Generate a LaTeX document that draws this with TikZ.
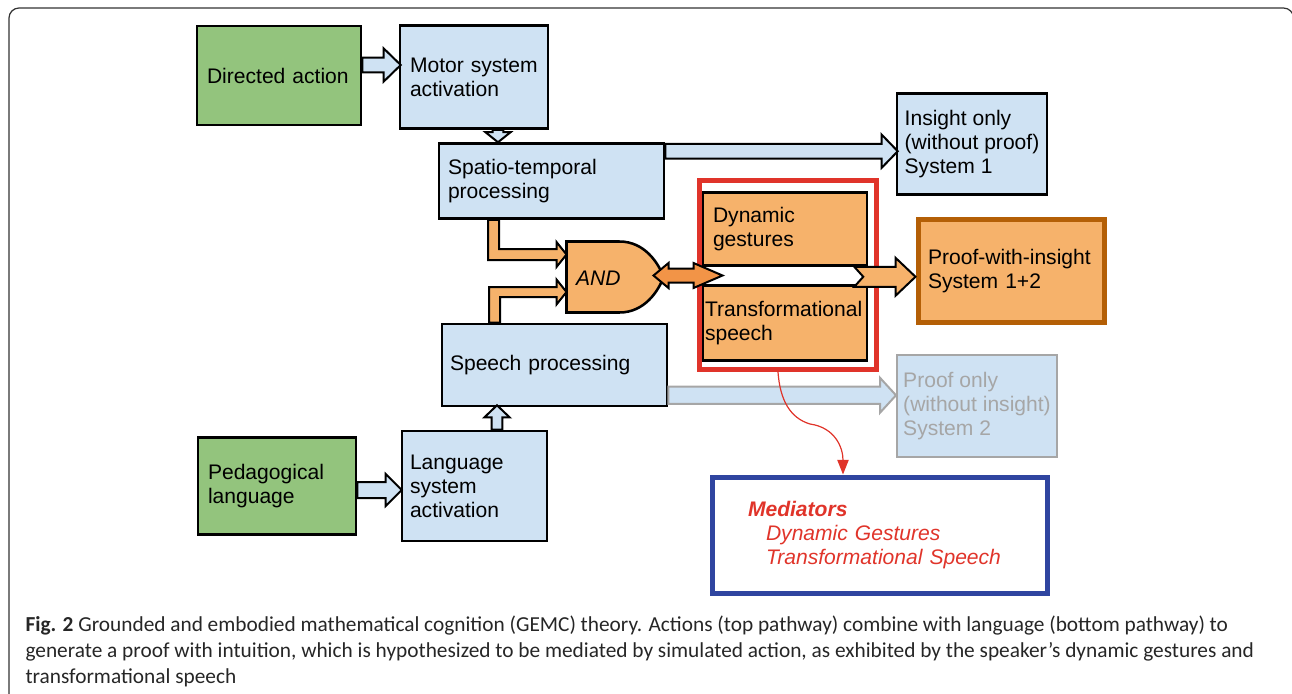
\documentclass[tikz,border=0pt]{standalone}
\usepackage{fontspec}
\setmainfont{Liberation Sans}
\newfontfamily\capfont{Carlito}
\usetikzlibrary{arrows.meta,calc}

\definecolor{boxgreen}{HTML}{93C47D}
\definecolor{boxblue}{HTML}{CFE2F3}
\definecolor{boxorange}{HTML}{F6B26B}
\definecolor{arrorange}{HTML}{F29447}
\definecolor{frameRed}{HTML}{E0342A}
\definecolor{proofbrown}{HTML}{B45F06}
\definecolor{medblue}{HTML}{2F45A0}
\definecolor{fadegray}{HTML}{A6A6A6}

\newcommand{\boxfont}{\fontsize{15.8}{18}\selectfont}
% block arrow: style, from, to, shaft half, head half, head length
\newcommand{\fatarrow}[6]{%
  \coordinate (fa) at ($(#3)!#6!(#2)$);
  \draw[#1] ($(#2)!#4!90:(#3)$) -- ($(fa)!#4!90:(#3)$) -- ($(fa)!#5!90:(#3)$) -- (#3)
    -- ($(fa)!#5!-90:(#3)$) -- ($(fa)!#4!-90:(#3)$) -- ($(#2)!#4!-90:(#3)$) -- cycle;
}

\tikzset{every picture/.style={line width=0.75pt}}

\begin{document}
\begin{tikzpicture}[x=0.75pt,y=0.75pt,yscale=-1,xscale=1,
  box/.style={draw=black, line width=1.9pt, align=left, font=\boxfont, inner ysep=0pt},
  greenbox/.style={box, fill=boxgreen},
  bluebox/.style={box, fill=boxblue},
  orangebox/.style={box, fill=boxorange},
  bluearr/.style={draw=black, fill=boxblue, line width=1.5pt, line join=miter},
  grayarr/.style={draw=fadegray, fill=boxblue, line width=1.5pt, line join=miter},
  orangearr/.style={draw=black, fill=boxorange, line width=1.5pt, line join=miter},
  darkarr/.style={draw=black, fill=arrorange, line width=1.5pt, line join=miter}]
\useasboundingbox (0,0) rectangle (1292,693);

%Shape: Outer frame
\draw[draw=black!80, line width=0.9pt, rounded corners=7.5pt] (9,720) -- (9,8) -- (1293.5,8) -- (1293.5,60);

%Shape: Boxes of the top pathway
\node[greenbox, text width=108pt, inner xsep=7.5pt, minimum height=74.25pt] (act) at (279,75.5) {Directed action};
\node[bluebox, text width=96pt, inner xsep=7.5pt, minimum height=77.25pt] (motor) at (474,77) {Motor system\\activation};
\node[bluebox, text width=155.25pt, inner xsep=6.75pt, minimum height=56.25pt] (spatio) at (551.5,181) {Spatio-temporal\\processing};
\node[bluebox, minimum width=112.5pt, inner xsep=2pt, minimum height=75.75pt] (insight) at (972,144) {Insight only\\(without proof)\\System 1};

%Shape: Boxes of the bottom pathway
\node[greenbox, text width=103.5pt, inner xsep=7.5pt, minimum height=72.75pt] (ped) at (277,486) {Pedagogical\\language};
\node[bluebox, text width=96.75pt, inner xsep=6pt, minimum height=82.5pt] (lang) at (474.5,486) {Language\\system\\activation};
\node[bluebox, text width=156.75pt, inner xsep=6pt, minimum height=61.5pt] (speech) at (554.5,365) {Speech processing};
\node[box, draw=fadegray, text=fadegray, fill=boxblue, line width=1.5pt, minimum width=120pt, inner xsep=1pt, minimum height=76.5pt] (proofonly) at (977,406) {Proof only\\(without insight)\\System 2};

%Shape: Mediators
\node[draw=frameRed, line width=3.75pt, minimum width=132.75pt, minimum height=141.75pt] (frame) at (788,275) {};
\node[orangebox, text width=108pt, inner xsep=7.5pt, minimum height=54.75pt] (dyn) at (785,229) {Dynamic\\gestures};
\node[orangebox, text width=120pt, inner xsep=1.5pt, minimum height=56.25pt] (trans) at (785,323) {Transformational\\speech};
\node[orangebox, draw=proofbrown, line width=3.75pt, text width=124.5pt, inner xsep=7.5pt, minimum height=77.25pt] (pwi) at (1011,271) {Proof-with-insight\\System 1+2};
\node[draw=medblue, line width=3.75pt, align=left, text=frameRed, font=\boxfont\itshape, text width=197.25pt, inner xsep=27pt, minimum height=87pt] (med) at (879.5,535)
  {\textbf{Mediators}\\\hspace*{13.5pt}Dynamic Gestures\\\hspace*{13.5pt}Transformational Speech};

%Shape: AND gate
\node[minimum width=72pt, minimum height=52.5pt, inner sep=0pt] (and) at (615,277) {};
\draw[draw=black, fill=boxorange, line width=1.9pt] (and.north west) -- ($(and.north west)+(53,0)$)
  .. controls ($(and.north west)+(78,0)$) and ($(and.east)+(-5,-14)$) .. (and.east)
  .. controls ($(and.east)+(-5,14)$) and ($(and.south west)+(78,0)$) .. ($(and.south west)+(53,0)$)
  -- (and.south west) -- cycle;
\node[font=\boxfont\itshape, anchor=west, inner sep=0pt] (andlabel) at ($(and.west)+(9,1)$) {AND};

%Block arrows
\coordinate (a1s) at ($(act.east)+(0,-10.5)$);
\coordinate (a1e) at ($(motor.west |- a1s)+(2,0)$);
\fatarrow{bluearr}{a1s}{a1e}{5.6pt}{12.4pt}{12.75pt}
\coordinate (a2s) at ($(motor.south)+(24,0)$);
\coordinate (a2e) at (spatio.north -| a2s);
\fatarrow{bluearr}{a2s}{a2e}{4.1pt}{9.4pt}{7.5pt}
\coordinate (a3s) at ($(spatio.north east)+(0,9)$);
\coordinate (a3e) at ($(insight.west |- a3s)+(2,0)$);
\fatarrow{bluearr}{a3s}{a3e}{5.6pt}{12.4pt}{12pt}
\coordinate (a4s) at ($(speech.south east)+(0,-12)$);
\coordinate (a4e) at (proofonly.west |- a4s);
\fatarrow{grayarr}{a4s}{a4e}{6.4pt}{13.1pt}{12pt}
\coordinate (a5s) at ($(lang.north)+(22.5,0)$);
\coordinate (a5e) at ($(speech.south -| a5s)+(0,-2)$);
\fatarrow{bluearr}{a5s}{a5e}{4.1pt}{9.4pt}{9pt}
\coordinate (a6s) at ($(ped.east)+(0,4)$);
\coordinate (a6e) at ($(lang.west |- a6s)+(1,0)$);
\fatarrow{bluearr}{a6s}{a6e}{6pt}{12pt}{12pt}

%Bent arrows into the gate
\coordinate (b1s) at ($(spatio.south)+(-58,0)$);
\coordinate (b1e) at ($(and.west)+(0,-22.5)$);
\coordinate (b1c) at (b1s |- b1e);
\draw[orangearr] ($(b1s)+(-5.5,0)$) -- ($(b1c)+(-5.5,5.5)$) -- ($(b1e)+(-10,5.5)$) -- ($(b1e)+(-10,12.5)$) -- (b1e)
  -- ($(b1e)+(-10,-12.5)$) -- ($(b1e)+(-10,-5.5)$) -- ($(b1c)+(5.5,-5.5)$) -- ($(b1s)+(5.5,0)$) -- cycle;
\coordinate (b2s) at ($(speech.north)+(-60,0)$);
\coordinate (b2e) at ($(and.west)+(0,15)$);
\coordinate (b2c) at (b2s |- b2e);
\draw[orangearr] ($(b2s)+(-5.5,0)$) -- ($(b2c)+(-5.5,-5)$) -- ($(b2e)+(-10,-5)$) -- ($(b2e)+(-10,-12.5)$) -- (b2e)
  -- ($(b2e)+(-10,12.5)$) -- ($(b2e)+(-10,5)$) -- ($(b2c)+(5.5,5)$) -- ($(b2s)+(5.5,0)$) -- cycle;

%Double arrow from the gate
\coordinate (dl) at ($(and.east)+(-10,-1.5)$);
\coordinate (dr) at ($(and.east)+(59,-1.5)$);
\draw[darkarr] (dl) -- ($(dl)+(15,-12.5)$) -- ($(dl)+(15,-7)$) -- ($(dr)+(-29,-7)$) -- ($(dr)+(-29,-12.5)$) -- (dr)
  -- ($(dr)+(-29,12.5)$) -- ($(dr)+(-29,7)$) -- ($(dl)+(15,7)$) -- ($(dl)+(15,12.5)$) -- cycle;

%Notched arrow to proof-with-insight
\coordinate (n1) at ($(dyn.south east)+(-14,10)$);
\coordinate (n2) at (pwi.west |- n1);
\draw[orangearr] ($(n1)+(0,-10)$) -- ($(n2)+(-20,-10)$) -- ($(n2)+(-20,-19)$) -- (n2) -- ($(n2)+(-20,19)$)
  -- ($(n2)+(-20,10)$) -- ($(n1)+(0,10)$) -- ($(n1)+(9,0)$) -- cycle;

%Curve Lines to mediators
\coordinate (c1) at ($(frame.south)+(-10,0)$);
\coordinate (c2) at ($(med.north)+(-36.5,0)$);
\draw[frameRed, line width=0.9pt, -{Triangle[length=11pt,width=8.5pt]}] (c1)
  .. controls ($(c1)+(2,28)$) and ($(c1)+(12,46)$) .. ($(c1)+(32,52)$)
  .. controls ($(c2)+(-8,-47)$) and ($(c2)+(0,-27)$) .. (c2);

% Text Node
\node[anchor=north west, align=left, inner sep=0pt, font=\capfont\fontsize{16}{19.5}\selectfont, text=black!85] (caption) at (25,615)
  {\makebox[902pt][s]{\textbf{Fig. 2} Grounded and embodied mathematical cognition (GEMC) theory. Actions (top pathway) combine with language (bottom pathway) to}\\
   generate a proof with intuition, which is hypothesized to be mediated by simulated action, as exhibited by the speaker’s dynamic gestures and\\
   transformational speech};

\end{tikzpicture}
\end{document}
